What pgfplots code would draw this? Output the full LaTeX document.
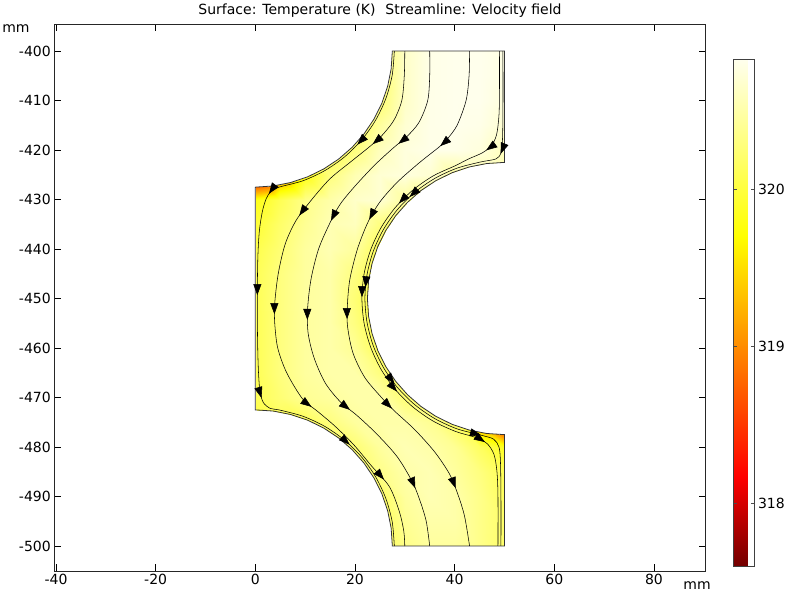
\documentclass[border=0pt]{standalone}
\usepackage{fontspec}
\setmainfont{DejaVu Sans}
\usepackage{pgfplots}
\pgfplotsset{compat=1.18}
\usepackage{pgfplotstable}
\usetikzlibrary{decorations.markings,arrows.meta}

% temperature field (K) on a 5 mm grid, x varies fastest
\pgfplotstableread{
x y T
0 -500 320.1
5 -500 320.1
10 -500 320.1
15 -500 320.1
20 -500 320.1
25 -500 320.1
30 -500 320.35
35 -500 320.45
40 -500 320.45
45 -500 320.35
50 -500 320.2
0 -495 320.1
5 -495 320.1
10 -495 320.1
15 -495 320.1
20 -495 320.1
25 -495 320.1
30 -495 320.4
35 -495 320.5
40 -495 320.5
45 -495 320.35
50 -495 320.2
0 -490 320.1
5 -490 320.1
10 -490 320.1
15 -490 320.1
20 -490 320.1
25 -490 320.15
30 -490 320.45
35 -490 320.55
40 -490 320.5
45 -490 320.35
50 -490 320.15
0 -485 320.1
5 -485 320.1
10 -485 320.1
15 -485 320.1
20 -485 320.1
25 -485 320.35
30 -485 320.5
35 -485 320.55
40 -485 320.45
45 -485 320.3
50 -485 320.1
0 -480 320.1
5 -480 320.1
10 -480 320.1
15 -480 320.1
20 -480 320.25
25 -480 320.45
30 -480 320.55
35 -480 320.5
40 -480 320.4
45 -480 320.15
50 -480 319.85
0 -475 320.0
5 -475 320.1
10 -475 320.1
15 -475 320.3
20 -475 320.45
25 -475 320.5
30 -475 320.5
35 -475 320.4
40 -475 320.15
45 -475 319.0
50 -475 317.9
0 -470 320.1
5 -470 320.25
10 -470 320.4
15 -470 320.45
20 -470 320.5
25 -470 320.5
30 -470 320.25
35 -470 320.1
40 -470 320.1
45 -470 319.6
50 -470 319.0
0 -465 320.1
5 -465 320.3
10 -465 320.45
15 -465 320.5
20 -465 320.5
25 -465 320.3
30 -465 320.1
35 -465 320.1
40 -465 320.1
45 -465 320.1
50 -465 320.1
0 -460 320.1
5 -460 320.3
10 -460 320.45
15 -460 320.5
20 -460 320.4
25 -460 320.1
30 -460 320.1
35 -460 320.1
40 -460 320.1
45 -460 320.1
50 -460 320.1
0 -455 320.1
5 -455 320.3
10 -455 320.45
15 -455 320.5
20 -455 320.3
25 -455 320.0
30 -455 320.1
35 -455 320.1
40 -455 320.1
45 -455 320.1
50 -455 320.1
0 -450 320.1
5 -450 320.3
10 -450 320.45
15 -450 320.5
20 -450 320.25
25 -450 320.0
30 -450 320.1
35 -450 320.1
40 -450 320.1
45 -450 320.1
50 -450 320.1
0 -445 320.1
5 -445 320.3
10 -445 320.45
15 -445 320.5
20 -445 320.3
25 -445 320.0
30 -445 320.1
35 -445 320.1
40 -445 320.1
45 -445 320.1
50 -445 320.1
0 -440 320.05
5 -440 320.25
10 -440 320.45
15 -440 320.55
20 -440 320.45
25 -440 320.1
30 -440 320.1
35 -440 320.1
40 -440 320.1
45 -440 320.1
50 -440 320.1
0 -435 319.95
5 -435 320.2
10 -435 320.4
15 -435 320.55
20 -435 320.6
25 -435 320.3
30 -435 320.1
35 -435 320.1
40 -435 320.1
45 -435 320.1
50 -435 320.1
0 -430 319.8
5 -430 320.1
10 -430 320.35
15 -430 320.5
20 -430 320.65
25 -430 320.7
30 -430 320.45
35 -430 320.2
40 -430 320.2
45 -430 320.2
50 -430 320.2
0 -425 317.9
5 -425 319.0
10 -425 319.8
15 -425 320.3
20 -425 320.55
25 -425 320.7
30 -425 320.75
35 -425 320.7
40 -425 320.45
45 -425 320.5
50 -425 320.5
0 -420 320.0
5 -420 320.0
10 -420 320.0
15 -420 320.0
20 -420 320.3
25 -420 320.6
30 -420 320.75
35 -420 320.8
40 -420 320.8
45 -420 320.75
50 -420 320.6
0 -415 320.1
5 -415 320.1
10 -415 320.1
15 -415 320.1
20 -415 320.1
25 -415 320.45
30 -415 320.7
35 -415 320.8
40 -415 320.82
45 -415 320.8
50 -415 320.7
0 -410 320.15
5 -410 320.15
10 -410 320.15
15 -410 320.15
20 -410 320.15
25 -410 320.25
30 -410 320.65
35 -410 320.8
40 -410 320.82
45 -410 320.82
50 -410 320.75
0 -405 320.15
5 -405 320.15
10 -405 320.15
15 -405 320.15
20 -405 320.15
25 -405 320.2
30 -405 320.65
35 -405 320.8
40 -405 320.82
45 -405 320.82
50 -405 320.78
0 -400 320.15
5 -400 320.15
10 -400 320.15
15 -400 320.15
20 -400 320.15
25 -400 320.2
30 -400 320.65
35 -400 320.8
40 -400 320.82
45 -400 320.82
50 -400 320.78
}\tempdata

\pgfplotsset{
  colormap={thermallight}{rgb255(0cm)=(115,0,0) rgb255(1.76cm)=(255,0,0) rgb255(4.33cm)=(255,140,0) rgb255(6.5cm)=(255,255,0) rgb255(10cm)=(255,255,238)},
}
\tikzset{
  sl/.style={black, line width=0.55pt, smooth, tension=0.5, no markers,
    postaction={decorate},
    decoration={markings, mark=between positions 103pt and 530pt step 103pt with {\arrow{Triangle[length=11pt,width=8pt]}}}},
}
\newcommand{\lbl}{\fontsize{14}{16}\selectfont}

\begin{document}
\begin{tikzpicture}[x=1pt,y=1pt]
\useasboundingbox (0,0) rectangle (790,596);
\begin{axis}[
  name=main,
  at={(54.3pt,25pt)}, anchor=south west,
  scale only axis, width=651.4pt, height=546.7pt,
  xmin=-40.34, xmax=90.39, ymin=-505.05, ymax=-394.6,
  xtick={-40,-20,0,20,40,60,80},
  ytick={-500,-490,-480,-470,-460,-450,-440,-430,-420,-410,-400},
  tick align=inside, major tick length=6.5pt,
  every tick/.style={black, line width=0.8pt},
  axis line style={black!85, line width=0.9pt},
  tick label style={font=\lbl},
  /pgf/number format/assume math mode=true,
  /pgf/number format/1000 sep={},
  colormap name=thermallight,
  point meta min=317.6, point meta max=320.83,
  colorbar,
  colorbar style={
    at={(parent axis.north east)}, anchor=north west,
    xshift=19.3pt, yshift=-34.7pt,
    scale only axis, width=21pt, height=507pt,
    ytick={318,319,320},
    tick align=inside, major tick length=3.5pt,
    ytick pos=both, yticklabel pos=right,
    every tick/.style={black!70, line width=0.7pt},
    axis line style={black!75, line width=0.8pt},
    yticklabel style={font=\lbl},
    /pgf/number format/assume math mode=true,
  },
]
\begin{scope}
\clip (0,-427.5) -- (3.590,-427.265) -- (7.118,-426.563) -- (10.524,-425.407) -- (13.75,-423.816) -- (16.741,-421.817) -- (19.445,-419.445) -- (21.817,-416.741) -- (23.816,-413.75) -- (25.407,-410.524) -- (26.563,-407.118) -- (27.265,-403.590) -- (27.5,-400) -- (50,-400) -- (50,-422.5) -- (46.410,-422.735) -- (42.882,-423.437) -- (39.476,-424.593) -- (36.25,-426.184) -- (33.259,-428.183) -- (30.555,-430.555) -- (28.183,-433.259) -- (26.184,-436.25) -- (24.593,-439.476) -- (23.437,-442.882) -- (22.735,-446.410) -- (22.5,-450) -- (22.735,-453.590) -- (23.437,-457.118) -- (24.593,-460.524) -- (26.184,-463.75) -- (28.183,-466.741) -- (30.555,-469.445) -- (33.259,-471.817) -- (36.25,-473.816) -- (39.476,-475.407) -- (42.882,-476.563) -- (46.410,-477.265) -- (50,-477.5) -- (50,-500) -- (27.5,-500) -- (27.265,-496.410) -- (26.563,-492.882) -- (25.407,-489.476) -- (23.816,-486.25) -- (21.817,-483.259) -- (19.445,-480.555) -- (16.741,-478.183) -- (13.75,-476.184) -- (10.524,-474.593) -- (7.118,-473.437) -- (3.590,-472.735) -- (0,-472.5) -- cycle;
\addplot[surf, shader=interp, mesh/rows=21, mesh/cols=11, point meta=explicit] table[x=x, y=y, meta=T] {\tempdata};
\end{scope}
% boundary
\addplot[black!80, line width=0.8pt, no markers] coordinates {
(0,-427.5) (3.590,-427.265) (7.118,-426.563) (10.524,-425.407) (13.75,-423.816) (16.741,-421.817) (19.445,-419.445) (21.817,-416.741) (23.816,-413.75) (25.407,-410.524) (26.563,-407.118) (27.265,-403.590) (27.5,-400) (50,-400)
(50,-422.5) (46.410,-422.735) (42.882,-423.437) (39.476,-424.593) (36.25,-426.184) (33.259,-428.183) (30.555,-430.555) (28.183,-433.259) (26.184,-436.25) (24.593,-439.476) (23.437,-442.882) (22.735,-446.410) (22.5,-450) (22.735,-453.590) (23.437,-457.118) (24.593,-460.524) (26.184,-463.75) (28.183,-466.741) (30.555,-469.445) (33.259,-471.817) (36.25,-473.816) (39.476,-475.407) (42.882,-476.563) (46.410,-477.265) (50,-477.5)
(50,-500) (27.5,-500) (27.265,-496.410) (26.563,-492.882) (25.407,-489.476) (23.816,-486.25) (21.817,-483.259) (19.445,-480.555) (16.741,-478.183) (13.75,-476.184) (10.524,-474.593) (7.118,-473.437) (3.590,-472.735) (0,-472.5) (0,-427.5)
};
% streamlines
\addplot[sl] coordinates {(27.9,-400) (27.48,-404.84) (26.22,-409.54) (24.16,-413.95) (21.37,-417.93) (17.93,-421.37) (13.95,-424.16) (9.54,-426.22) (4.84,-427.48) (3.2,-428.3) (2.2,-429.8) (1.4,-432.5) (0.8,-436.5) (0.5,-442) (0.4,-450) (0.45,-458) (0.6,-464) (0.9,-468.5) (1.6,-471) (3,-472.2) (4.84,-472.52) (9.54,-473.78) (13.95,-475.84) (17.93,-478.63) (21.37,-482.07) (24.16,-486.05) (26.22,-490.46) (27.48,-495.16) (27.9,-500)};
\addplot[sl] coordinates {(30,-400) (29.9,-405) (29.4,-410) (27.8,-414) (25.2,-417.3) (22.6,-419.6) (19,-422.5) (15,-425.8) (11.5,-429.8) (8.2,-434.2) (6,-439) (4.6,-445) (3.9,-451) (3.9,-455) (4.5,-460) (6.3,-465) (9.5,-470.3) (12.5,-472.8) (16,-475.8) (19.8,-479.6) (23.3,-483.8) (26.9,-488) (28.9,-493) (29.8,-497) (30,-500)};
\addplot[sl] coordinates {(35,-400) (35,-405) (34.6,-410) (32.8,-414.5) (30.2,-417.5) (27.9,-419.4) (24,-423) (20,-427.3) (17,-431) (14.9,-434.9) (12.7,-440) (11.2,-446) (10.5,-452) (10.6,-457) (11.8,-462) (14,-467) (17,-470.8) (20.6,-473.8) (24.5,-477.5) (28.5,-482) (31.5,-487) (33,-490.7) (34.3,-495) (35,-500)};
\addplot[sl] coordinates {(43,-400) (42.9,-405) (42.3,-410) (40.5,-415) (38.5,-417.8) (37,-419.3) (33,-422.5) (28.5,-426.5) (25,-430.5) (22.6,-434.6) (20.5,-440) (19,-446) (18.5,-451) (18.5,-455.5) (19.6,-461) (22,-466) (25.6,-470.3) (27.9,-472.7) (32,-476.5) (36,-481) (39,-485.5) (40.7,-489.7) (42,-494) (43,-500)};
\addplot[sl] coordinates {(49,-400) (49,-408) (48.9,-413) (48.4,-417) (47.3,-419.2) (45.5,-420.6) (42.8,-421.8) (40.22,-423.13) (35.7,-425.23) (31.62,-428.09) (28.09,-431.62) (25.23,-435.7) (23.13,-440.22) (21.83,-445.03) (21.4,-450) (21.83,-454.97) (23.13,-459.78) (25.23,-464.3) (28.09,-468.38) (31.62,-471.91) (35.7,-474.77) (40.22,-476.87) (44,-478) (46.5,-479.3) (47.9,-481.5) (48.5,-485) (48.7,-490) (48.7,-500)};
\addplot[sl] coordinates {(49.7,-400) (49.7,-412) (49.6,-418) (49.3,-420.6) (48.3,-421.8) (45.14,-422.43) (40.42,-423.69) (36,-425.75) (32,-428.55) (28.55,-432) (25.75,-436) (23.69,-440.42) (22.43,-445.14) (22,-450) (22.43,-454.86) (23.69,-459.58) (25.75,-464) (28.55,-468) (32,-471.45) (36,-474.25) (40.42,-476.31) (45.14,-477.57) (47.8,-478.4) (48.9,-480) (49.2,-483) (49.3,-490) (49.3,-500)};
\end{axis}
\node[font=\lbl] at ([xshift=-38.3pt, yshift=-4.5pt]main.north west) {mm};
\node[font=\lbl] at ([xshift=-8.7pt, yshift=-15pt]main.south east) {mm};
\node[font=\lbl] at (380,585) {Surface: Temperature (K)\hspace{0.7em}Streamline: Velocity field};
\end{tikzpicture}
\end{document}
